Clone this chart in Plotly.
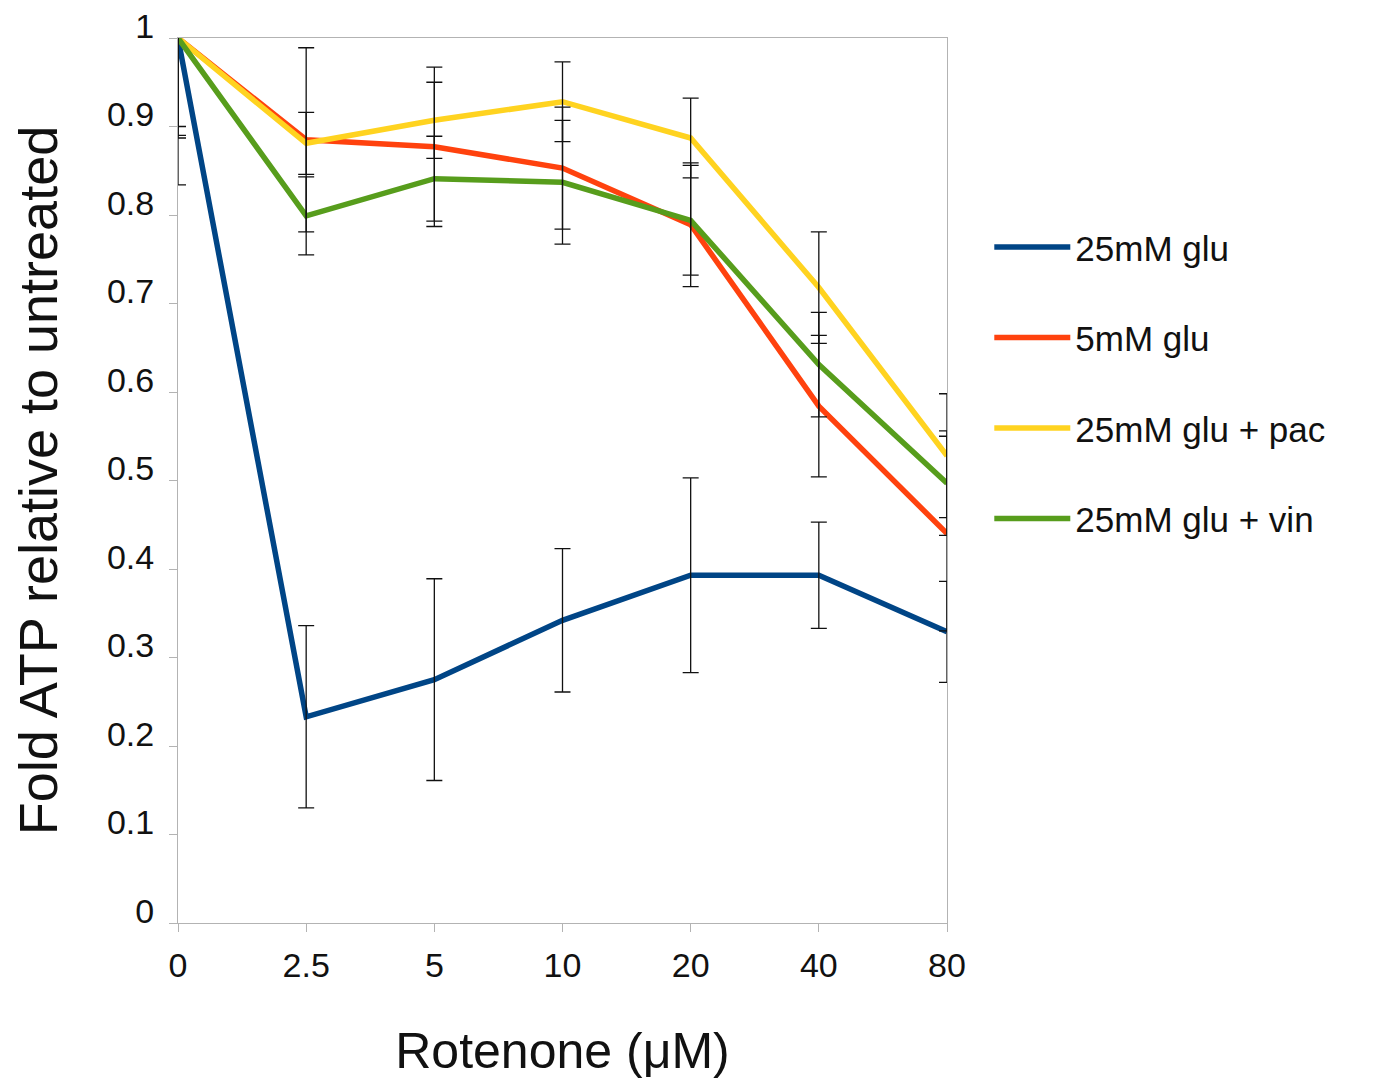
import plotly.graph_objects as go

categories = ["0", "2.5", "5", "10", "20", "40", "80"]

series_names = ["25mM glu", "5mM glu", "25mM glu + pac", "25mM glu + vin"]
glu25 = [1.0, 0.233, 0.275, 0.342, 0.393, 0.393, 0.329]
glu5 = [1.0, 0.885, 0.877, 0.853, 0.789, 0.584, 0.440]
glu25_pac = [1.0, 0.881, 0.907, 0.928, 0.887, 0.718, 0.528]
glu25_vin = [1.0, 0.799, 0.841, 0.837, 0.794, 0.631, 0.497]

err_glu25 = [0.166, 0.103, 0.114, 0.081, 0.110, 0.060, 0.057]
err_glu5 = [0.110, 0.104, 0.090, 0.069, 0.070, 0.080, 0.110]
err_glu25_pac = [0.100, 0.035, 0.043, 0.045, 0.045, 0.063, 0.070]
err_glu25_vin = [0.113, 0.044, 0.048, 0.070, 0.062, 0.059, 0.059]

colors = ["#004586", "#ff420e", "#ffd320", "#579d1c"]

values = [glu25, glu5, glu25_pac, glu25_vin]
errors = [err_glu25, err_glu5, err_glu25_pac, err_glu25_vin]

y_ticks = [0, 0.1, 0.2, 0.3, 0.4, 0.5, 0.6, 0.7, 0.8, 0.9, 1]
y_tick_labels = ["0", "0.1", "0.2", "0.3", "0.4", "0.5", "0.6", "0.7", "0.8", "0.9", "1"]

fig = go.Figure()

for i, (name, vals, col) in enumerate(zip(series_names, values, colors)):
    fig.add_trace(go.Scatter(
        x=categories, y=vals, mode="lines", name=name,
        line=dict(color=col, width=5.5),
        legendgroup=f"g{i}",
        cliponaxis=False,
    ))

for vals, errs in zip(values, errors):
    fig.add_trace(go.Scatter(
        x=categories, y=vals, mode="markers",
        marker=dict(size=1, color="rgba(0,0,0,0)"),
        error_y=dict(type="data", array=errs, visible=True,
                     color="#111111", thickness=1.3, width=8),
        showlegend=False, hoverinfo="skip",
    ))

font_family = "Liberation Sans, Arial, sans-serif"

fig.update_layout(
    width=1377, height=1088,
    margin=dict(l=170, r=438, t=30, b=173),
    paper_bgcolor="white", plot_bgcolor="white",
    font=dict(family=font_family, color="#111111"),
    showlegend=True,
    legend=dict(
        x=1.055, y=0.797, xanchor="left", yanchor="top",
        font=dict(size=35, family=font_family, color="#111111"),
        itemwidth=76, tracegroupgap=42,
        bgcolor="rgba(0,0,0,0)",
    ),
    xaxis=dict(
        type="category", range=[0, 6],
        showline=True, linecolor="#b3b3b3", linewidth=1, mirror=True,
        showgrid=False, zeroline=False,
        ticks="outside", ticklen=8, tickcolor="#b3b3b3",
        ticklabelstandoff=4,
        tickfont=dict(size=34),
        title=dict(text="Rotenone (μM)", font=dict(size=50), standoff=50),
    ),
    yaxis=dict(
        range=[0, 1],
        tickvals=y_ticks, ticktext=y_tick_labels,
        showline=True, linecolor="#b3b3b3", linewidth=1, mirror=True,
        showgrid=False, zeroline=False,
        ticks="outside", ticklen=8, tickcolor="#b3b3b3",
        ticklabelstandoff=8, ticklabelshift=-12,
        ticklabeloverflow="allow",
        automargin="left",
        tickfont=dict(size=34),
        title=dict(text="Fold ATP relative to untreated", font=dict(size=54), standoff=38),
    ),
)

fig.write_html("out.html")
